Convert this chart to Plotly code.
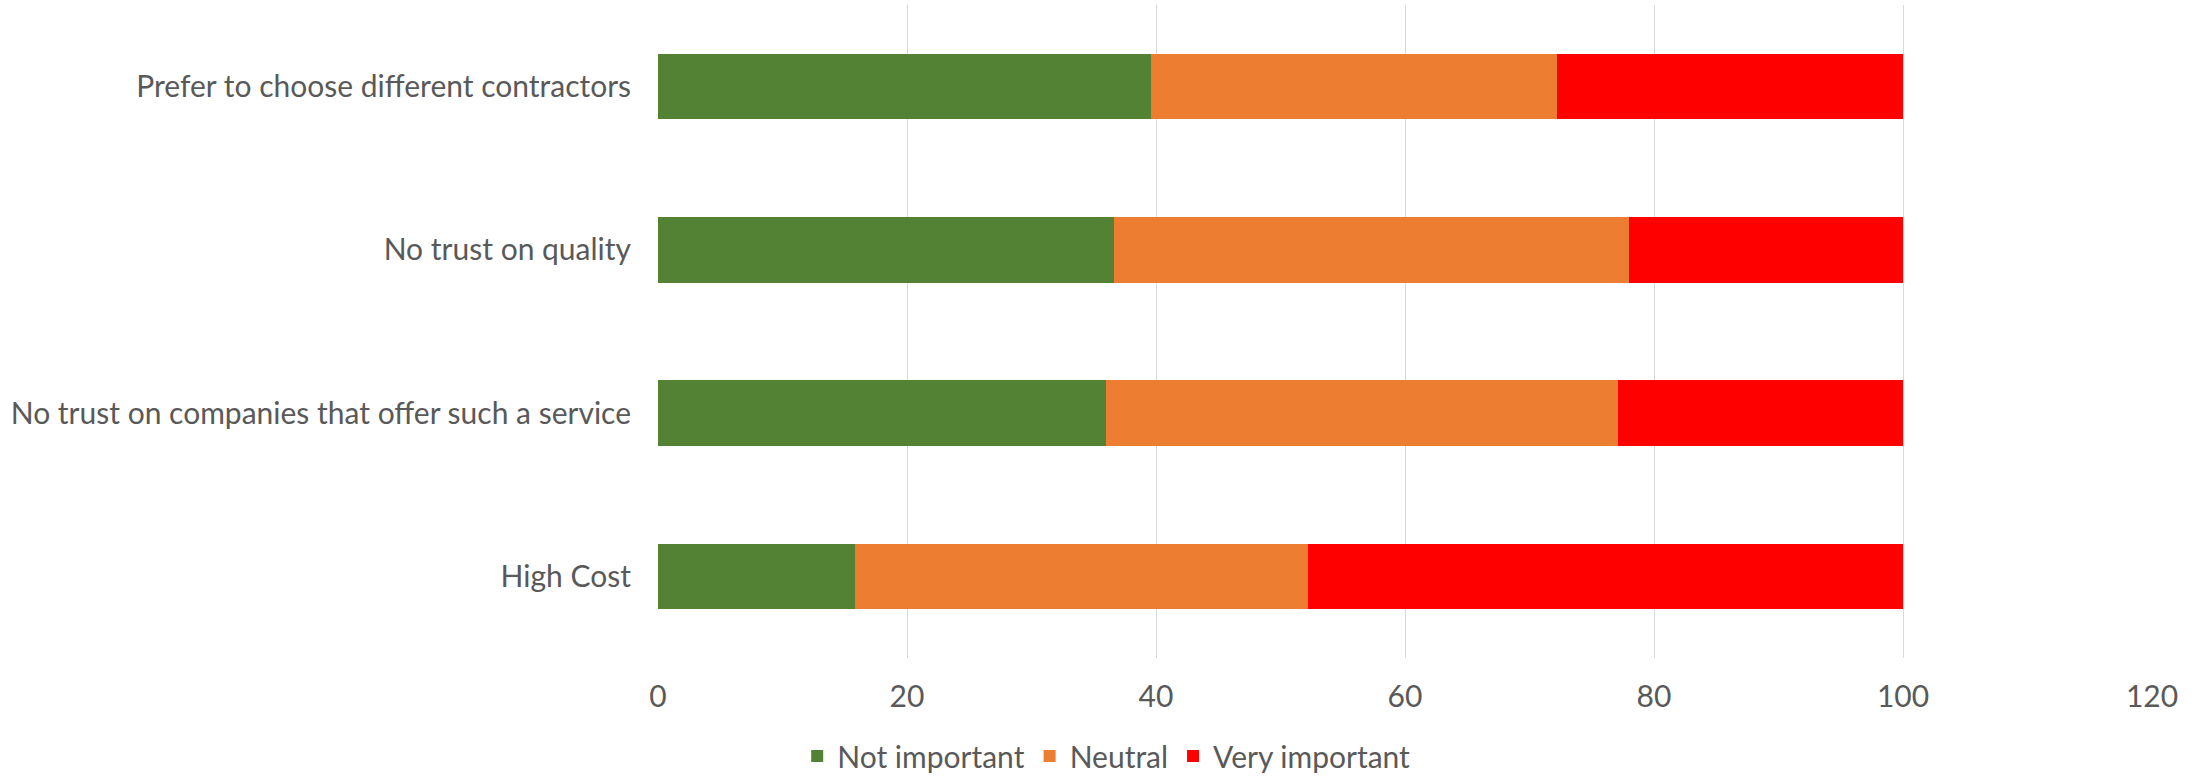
import plotly.graph_objects as go

# Reasons for not using the service, bottom to top
categories = [
    "High Cost",
    "No trust on companies that offer such a service",
    "No trust on quality",
    "Prefer to choose different contractors",
]

# Share of respondents (%) per importance rating
not_important = [15.8, 36.0, 36.6, 39.6]
neutral = [36.4, 41.1, 41.4, 32.6]
very_important = [47.8, 22.9, 22.0, 27.8]

series_names = ["Not important", "Neutral", "Very important"]
series_colors = ["#548235", "#ED7D31", "#FF0000"]

x_ticks = [0, 20, 40, 60, 80, 100, 120]

fig = go.Figure()
for name, values, color in zip(series_names, [not_important, neutral, very_important], series_colors):
    fig.add_trace(go.Bar(
        y=categories,
        x=values,
        name=name,
        orientation="h",
        marker=dict(color=color, line=dict(width=0)),
    ))

font_family = "Lato, 'Open Sans', sans-serif"
text_color = "#595959"
font_size = 30

fig.update_layout(
    barmode="stack",
    bargap=0.6,
    width=2203,
    height=779,
    margin=dict(l=658, r=51, t=5, b=121, autoexpand=False),
    paper_bgcolor="white",
    plot_bgcolor="white",
    font=dict(family=font_family, size=font_size, color=text_color),
    xaxis=dict(
        range=[0, 120],
        tickvals=x_ticks,
        showgrid=True,
        gridcolor="#D9D9D9",
        gridwidth=1,
        zeroline=False,
        showline=False,
        ticks="",
        ticklabelstandoff=18,
        tickfont=dict(size=font_size, color=text_color),
    ),
    yaxis=dict(
        showgrid=False,
        zeroline=False,
        showline=False,
        ticks="",
        ticklabelstandoff=26,
        tickfont=dict(size=font_size, color=text_color),
    ),
    legend=dict(
        orientation="h",
        x=0.30,
        xanchor="center",
        y=-0.150,
        yanchor="middle",
        traceorder="normal",
        font=dict(size=font_size, color=text_color),
        itemwidth=30,
    ),
    showlegend=True,
)

fig.write_html("out.html")
